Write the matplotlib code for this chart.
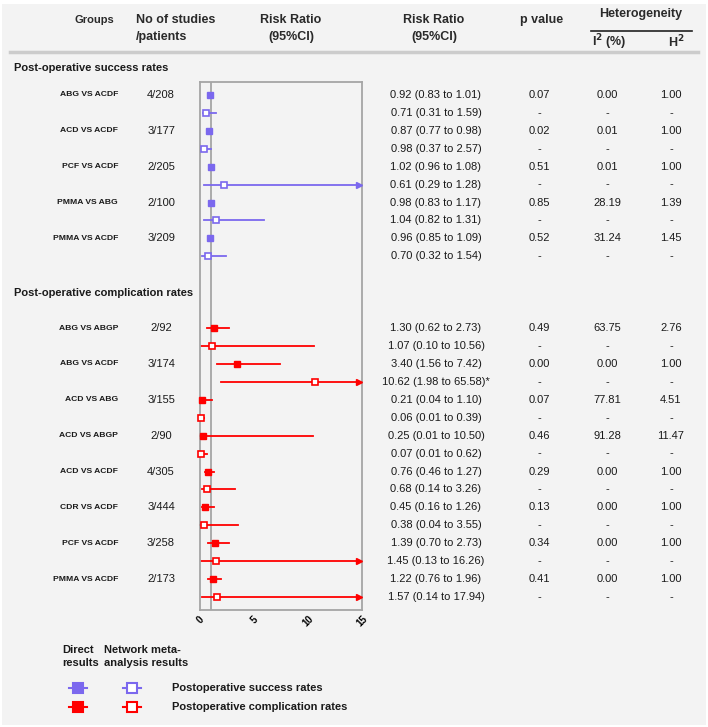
import numpy as np
import matplotlib
matplotlib.use('Agg')
import matplotlib.pyplot as plt
import matplotlib.transforms as mtransforms
from matplotlib.patches import Rectangle
from matplotlib.lines import Line2D

plt.rcParams['font.family'] = ['Liberation Sans', 'DejaVu Sans']

# ---------------- data ----------------
# 术后成功率
succ_groups = ['ABG VS ACDF', 'ACD VS ACDF', 'PCF VS ACDF', 'PMMA VS ABG', 'PMMA VS ACDF']
succ_n = ['4/208', '3/177', '2/205', '2/100', '3/209']
succ_dir_txt = ['0.92 (0.83 to 1.01)', '0.87 (0.77 to 0.98)', '1.02 (0.96 to 1.08)',
                '0.98 (0.83 to 1.17)', '0.96 (0.85 to 1.09)']
succ_nma_txt = ['0.71 (0.31 to 1.59)', '0.98 (0.37 to 2.57)', '0.61 (0.29 to 1.28)',
                '1.04 (0.82 to 1.31)', '0.70 (0.32 to 1.54)']
succ_p = ['0.07', '0.02', '0.51', '0.85', '0.52']
succ_i2 = ['0.00', '0.01', '0.01', '28.19', '31.24']
succ_h2 = ['1.00', '1.00', '1.00', '1.39', '1.45']
# values as drawn in the plot
succ_dir_rr = [0.92, 0.87, 1.02, 0.98, 0.96]
succ_dir_lo = [0.83, 0.77, 0.96, 0.83, 0.85]
succ_dir_hi = [1.01, 0.98, 1.08, 1.17, 1.09]
succ_nma_rr = [0.60, 0.40, 2.25, 1.50, 0.75]
succ_nma_lo = [0.27, 0.05, 0.37, 0.37, 0.15]
succ_nma_hi = [1.48, 1.00, 20.0, 5.90, 2.40]

# 术后并发症率
comp_groups = ['ABG VS ABGP', 'ABG VS ACDF', 'ACD VS ABG', 'ACD VS ABGP',
               'ACD VS ACDF', 'CDR VS ACDF', 'PCF VS ACDF', 'PMMA VS ACDF']
comp_n = ['2/92', '3/174', '3/155', '2/90', '4/305', '3/444', '3/258', '2/173']
comp_dir_rr = [1.30, 3.40, 0.21, 0.25, 0.76, 0.45, 1.39, 1.22]
comp_dir_lo = [0.62, 1.56, 0.04, 0.01, 0.46, 0.16, 0.70, 0.76]
comp_dir_hi = [2.73, 7.42, 1.10, 10.50, 1.27, 1.26, 2.73, 1.96]
comp_nma_rr = [1.07, 10.62, 0.06, 0.07, 0.68, 0.38, 1.45, 1.57]
comp_nma_lo = [0.10, 1.98, 0.01, 0.01, 0.14, 0.04, 0.13, 0.14]
comp_nma_hi = [10.56, 65.58, 0.39, 0.62, 3.26, 3.55, 16.26, 17.94]
comp_nma_note = ['', '*', '', '', '', '', '', '']
comp_p = ['0.49', '0.00', '0.07', '0.46', '0.29', '0.13', '0.34', '0.41']
comp_i2 = ['63.75', '0.00', '77.81', '91.28', '0.00', '0.00', '0.00', '0.00']
comp_h2 = ['2.76', '1.00', '4.51', '11.47', '1.00', '1.00', '1.00', '1.00']

purple = '#7b68ee'
red = '#ff0000'
txtc = '#1a1a1a'
W, H = 708, 727
XMAX = 15


def fx(px):
    return px / W


def fy(py):
    return 1 - py / H


fig = plt.figure(figsize=(W / 100, H / 100), dpi=100)
fig.patch.set_facecolor('white')
fig.patches.append(Rectangle((fx(2), fy(725)), fx(704), 721 / H, transform=fig.transFigure,
                             facecolor='#f3f3f3', edgecolor='none', zorder=-10))

# 森林图坐标轴
ax = fig.add_axes([fx(200), fy(610), fx(162), 528 / H])
ax.set_facecolor('none')
ax.set_xlim(0, XMAX)
ax.set_ylim(28.72, -0.72)
for s in ax.spines.values():
    s.set_color('#a5a5a5')
    s.set_linewidth(1.3)
ax.axvline(1, color='#a5a5a5', lw=1.3, zorder=1)
ax.set_yticks([])
ax.set_xticks([0, 5, 10, 15])
ax.set_xticklabels(['0', '5', '10', '15'], rotation=45, fontsize=7, fontweight='bold')
ax.tick_params(axis='x', length=0, pad=3)

trans = mtransforms.blended_transform_factory(fig.transFigure, ax.transData)


def draw_row(y, rr, lo, hi, color, filled):
    ax.plot([lo, min(hi, XMAX)], [y, y], color=color, lw=1.3, zorder=2, clip_on=False)
    if hi > XMAX:
        ax.plot(XMAX - 0.3, y, marker='>', ms=4, color=color, zorder=3, clip_on=False)
    if filled:
        ax.plot(rr, y, marker='s', ms=4.2, color=color, mec=color, zorder=4, clip_on=False)
    else:
        ax.plot(rr, y, marker='s', ms=5, mfc='white', mec=color, mew=1.2, zorder=4, clip_on=False)


def row_text(y, x, s, **kw):
    fig.text(fx(x), y, s, transform=trans, va='center', **kw)


def section(start, groups, n, d_rr, d_lo, d_hi, n_rr, n_lo, n_hi, d_txt, n_txt, p, i2, h2, color):
    for i in range(len(groups)):
        yd = start + 2 * i
        yn = yd + 1
        draw_row(yd, d_rr[i], d_lo[i], d_hi[i], color, True)
        draw_row(yn, n_rr[i], n_lo[i], n_hi[i], color, False)
        row_text(yd, 118, groups[i], ha='right', fontsize=6.1, fontweight='bold', color=txtc)
        row_text(yd, 161, n[i], ha='center', fontsize=8, color=txtc)
        row_text(yd, 436, d_txt[i], ha='center', fontsize=8, color=txtc)
        row_text(yn, 436, n_txt[i], ha='center', fontsize=8, color=txtc)
        row_text(yd, 539, p[i], ha='center', fontsize=8, color=txtc)
        row_text(yd, 607, i2[i], ha='center', fontsize=8, color=txtc)
        row_text(yd, 671, h2[i], ha='center', fontsize=8, color=txtc)
        for x in (539, 607, 671):
            row_text(yn, x, '-', ha='center', fontsize=8, color=txtc)


comp_nma_txt = ['%.2f (%.2f to %.2f)%s' % (a, b, c, d)
                for a, b, c, d in zip(comp_nma_rr, comp_nma_lo, comp_nma_hi, comp_nma_note)]
comp_dir_txt = ['%.2f (%.2f to %.2f)' % (a, b, c)
                for a, b, c in zip(comp_dir_rr, comp_dir_lo, comp_dir_hi)]

section(0, succ_groups, succ_n, succ_dir_rr, succ_dir_lo, succ_dir_hi,
        succ_nma_rr, succ_nma_lo, succ_nma_hi, succ_dir_txt, succ_nma_txt,
        succ_p, succ_i2, succ_h2, purple)
section(13, comp_groups, comp_n, comp_dir_rr, comp_dir_lo, comp_dir_hi,
        comp_nma_rr, comp_nma_lo, comp_nma_hi, comp_dir_txt, comp_nma_txt,
        comp_p, comp_i2, comp_h2, red)

row_text(-1.5, 14, 'Post-operative success rates', ha='left', fontsize=8, fontweight='bold', color=txtc)
row_text(11.05, 14, 'Post-operative complication rates', ha='left', fontsize=8, fontweight='bold', color=txtc)

# 表头
hdr = dict(fontsize=9, fontweight='bold', color='#2a2a2a', va='center')
fig.text(fx(94), fy(20), 'Groups', ha='center', **dict(hdr, fontsize=8))
fig.text(fx(136), fy(20), 'No of studies', ha='left', **hdr)
fig.text(fx(136), fy(37), '/patients', ha='left', **hdr)
fig.text(fx(291), fy(20), 'Risk Ratio', ha='center', **hdr)
fig.text(fx(291), fy(37), '(95%CI)', ha='center', **hdr)
fig.text(fx(434), fy(20), 'Risk Ratio', ha='center', **hdr)
fig.text(fx(434), fy(37), '(95%CI)', ha='center', **hdr)
fig.text(fx(542), fy(20), 'p value', ha='center', **hdr)
fig.text(fx(641), fy(14), 'Heterogeneity', ha='center', **hdr)
fig.text(fx(609), fy(42), r'I$^\mathbf{2}$ (%)', ha='center', **hdr)
fig.text(fx(676), fy(42), r'H$^\mathbf{2}$', ha='center', **hdr)
fig.add_artist(Line2D([fx(591), fx(692)], [fy(31), fy(31)], transform=fig.transFigure, color='#222222', lw=1.2))
fig.add_artist(Line2D([fx(10), fx(698)], [fy(52), fy(52)], transform=fig.transFigure, color='#cccccc', lw=2.5))

# 图例
lg = dict(fontsize=8, fontweight='bold', color=txtc, va='center', ha='left')
fig.text(fx(62), fy(650), 'Direct', **lg)
fig.text(fx(62), fy(663), 'results', **lg)
fig.text(fx(104), fy(650), 'Network meta-', **lg)
fig.text(fx(104), fy(663), 'analysis results', **lg)
fig.text(fx(172), fy(688), 'Postoperative success rates', **lg)
fig.text(fx(172), fy(707), 'Postoperative complication rates', **lg)
for color, py in [(purple, 688), (red, 707)]:
    for cx, filled in [(78, True), (132, False)]:
        fig.add_artist(Line2D([fx(cx - 9), fx(cx + 9)], [fy(py), fy(py)], transform=fig.transFigure,
                              color=color, lw=1.5))
        fig.add_artist(Line2D([fx(cx)], [fy(py)], transform=fig.transFigure, marker='s', ms=7,
                              mfc=color if filled else 'white', mec=color, mew=1.5, lw=0))

fig.savefig('out.png', dpi=100, facecolor=fig.get_facecolor())
